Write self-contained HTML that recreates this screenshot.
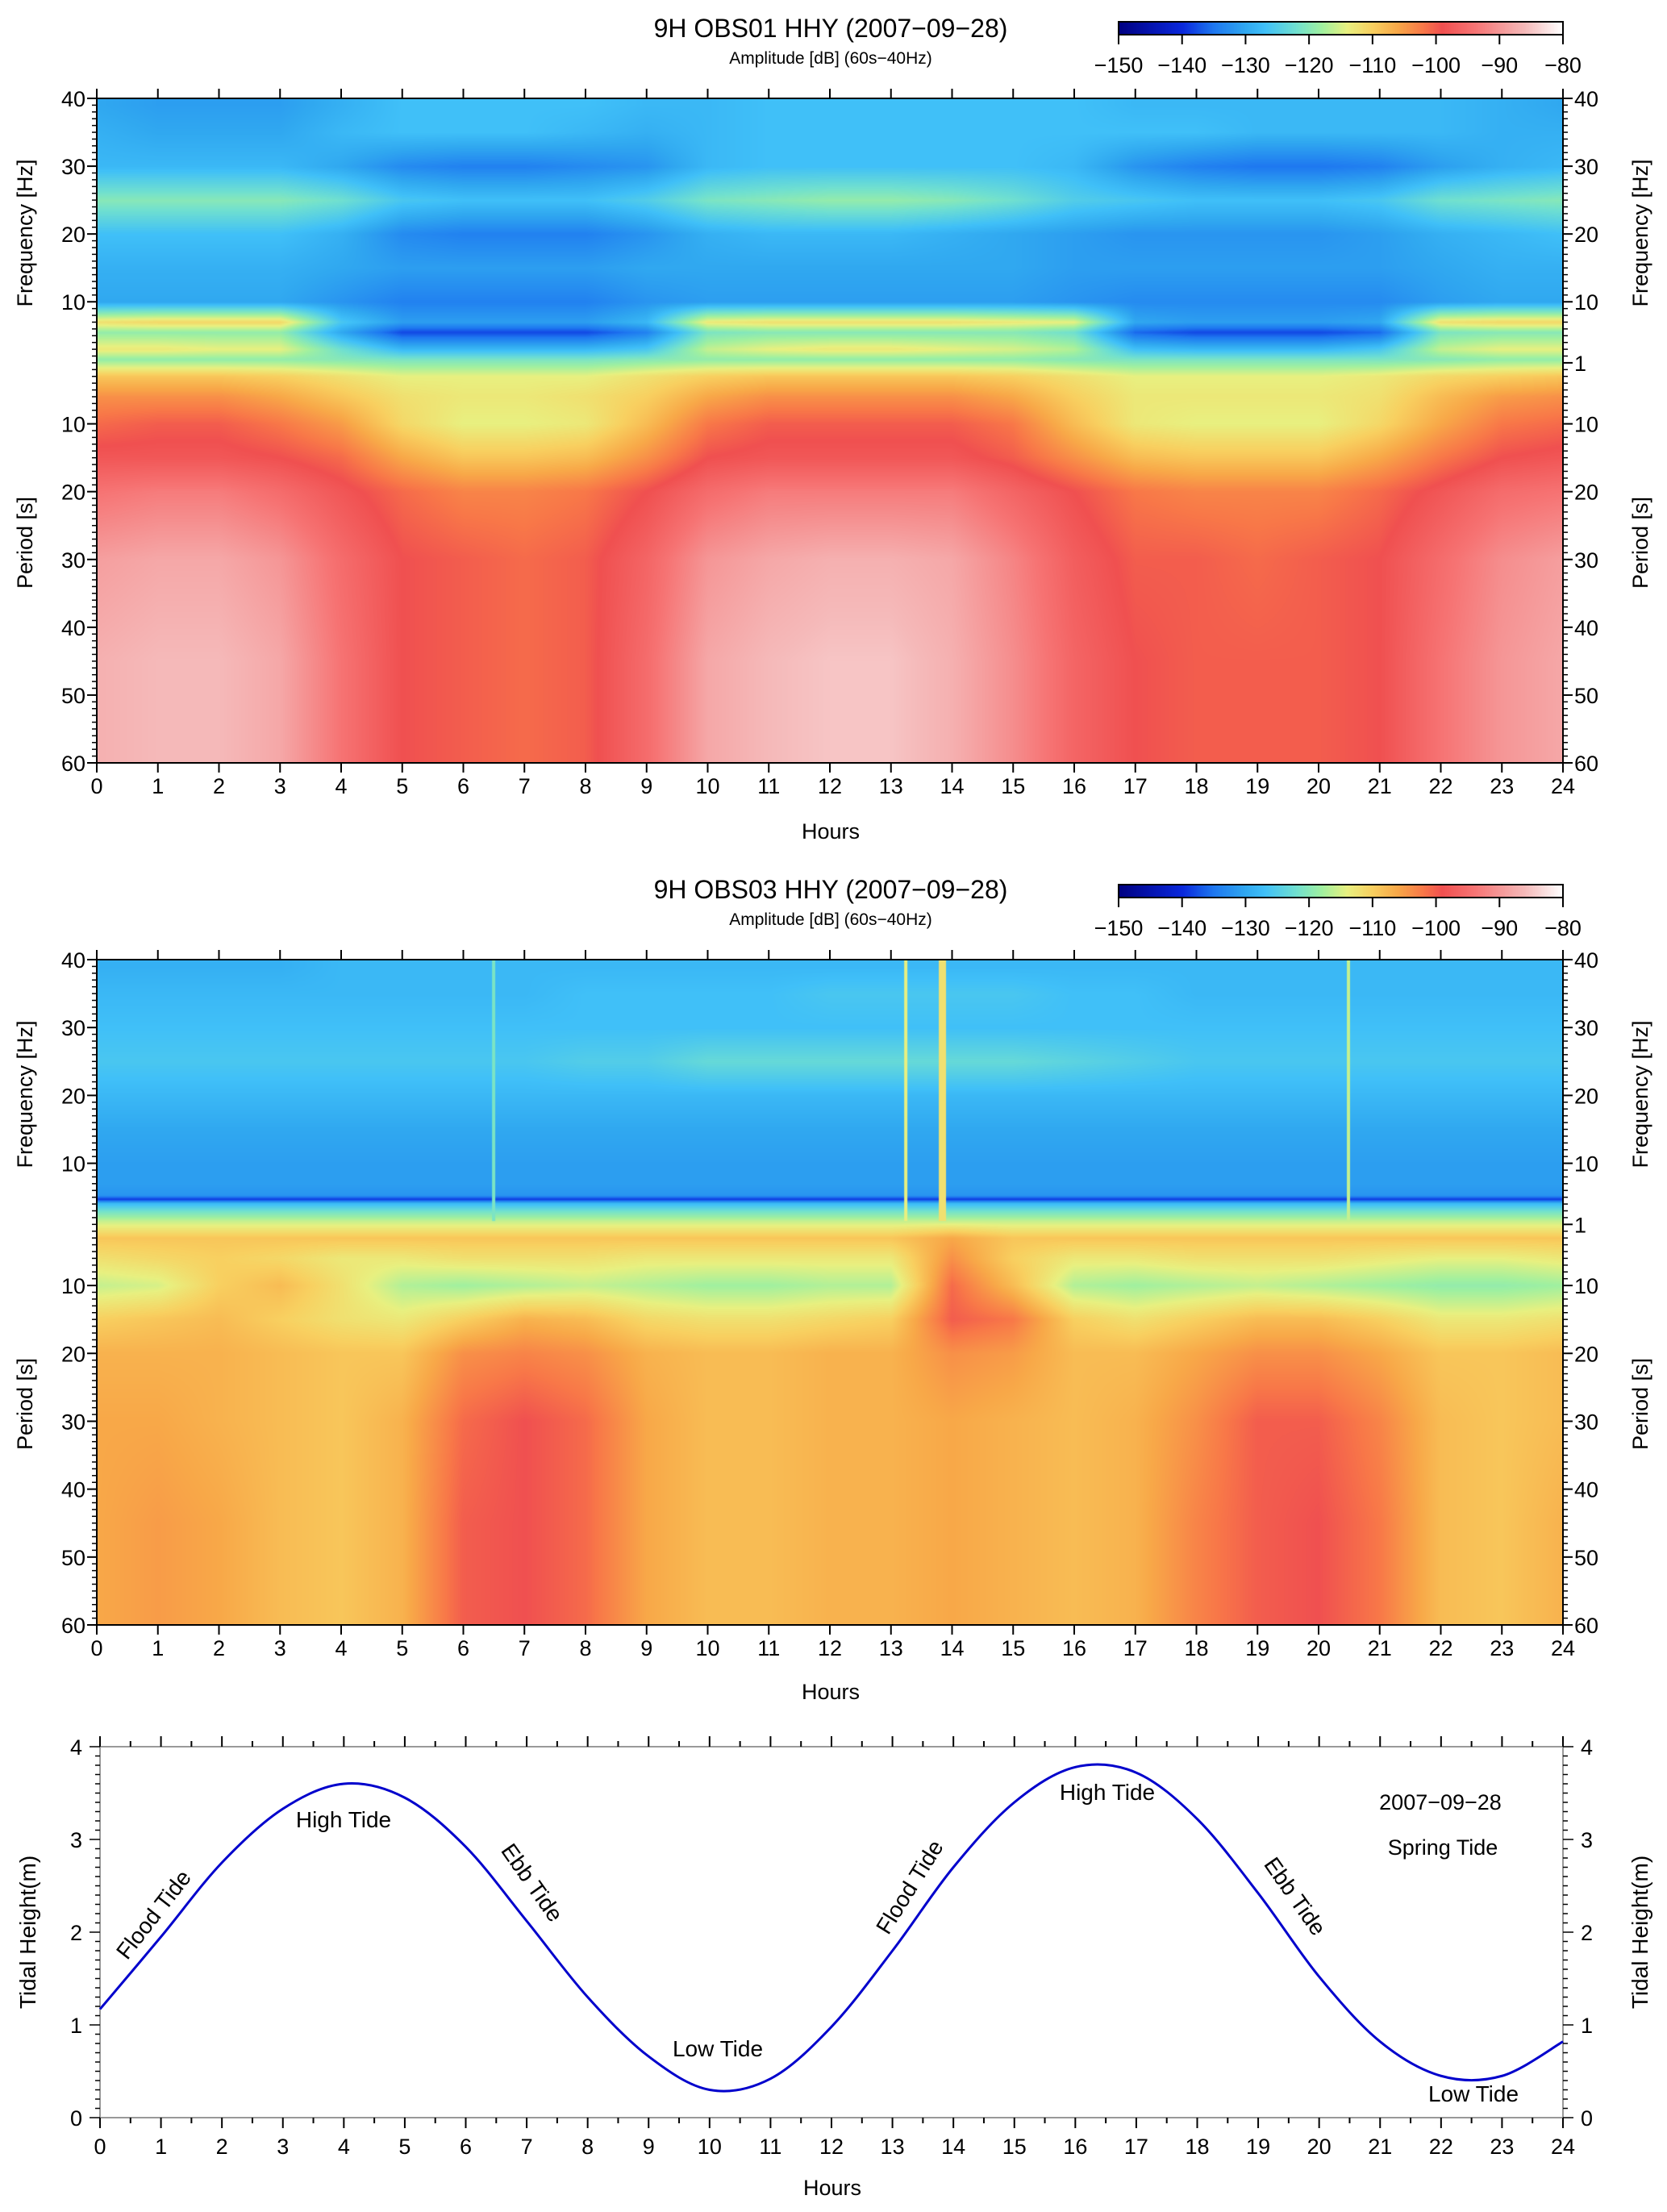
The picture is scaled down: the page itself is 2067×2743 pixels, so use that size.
<!DOCTYPE html>
<html><head><meta charset="utf-8">
<style>
body{margin:0;background:#fff;}
#root{position:relative;width:2067px;height:2743px;overflow:hidden;background:#fff;font-family:"Liberation Sans",sans-serif;}
canvas{position:absolute;}
svg{position:absolute;left:0;top:0;}
</style></head>
<body>
<div id="root">
<canvas id="spec1" width="1818" height="824" style="left:120px;top:122px"></canvas>
<canvas id="spec2" width="1818" height="825" style="left:120px;top:1190px"></canvas>
<canvas id="cb1" width="551" height="16" style="left:1387px;top:27px"></canvas>
<canvas id="cb2" width="551" height="16" style="left:1387px;top:1097px"></canvas>
<svg id="ov" width="2067" height="2743" font-family="Liberation Sans, sans-serif">
<text x="1030" y="46" font-size="32" text-anchor="middle">9H OBS01 HHY (2007−09−28)</text>
<text x="1030" y="79" font-size="21" text-anchor="middle">Amplitude [dB] (60s−40Hz)</text>
<text x="1030" y="1114" font-size="32" text-anchor="middle">9H OBS03 HHY (2007−09−28)</text>
<text x="1030" y="1147" font-size="21" text-anchor="middle">Amplitude [dB] (60s−40Hz)</text>
<text x="1030" y="1040" font-size="27" text-anchor="middle">Hours</text>
<text x="1030" y="2107" font-size="27" text-anchor="middle">Hours</text>
<text x="1032" y="2722" font-size="27" text-anchor="middle">Hours</text>
<text transform="translate(40,289) rotate(-90)" font-size="27" text-anchor="middle">Frequency [Hz]</text>
<text transform="translate(40,673) rotate(-90)" font-size="27" text-anchor="middle">Period [s]</text>
<text transform="translate(2043,289) rotate(-90)" font-size="27" text-anchor="middle">Frequency [Hz]</text>
<text transform="translate(2043,673) rotate(-90)" font-size="27" text-anchor="middle">Period [s]</text>
<text transform="translate(40,1357) rotate(-90)" font-size="27" text-anchor="middle">Frequency [Hz]</text>
<text transform="translate(40,1741) rotate(-90)" font-size="27" text-anchor="middle">Period [s]</text>
<text transform="translate(2043,1357) rotate(-90)" font-size="27" text-anchor="middle">Frequency [Hz]</text>
<text transform="translate(2043,1741) rotate(-90)" font-size="27" text-anchor="middle">Period [s]</text>
<text transform="translate(44,2396) rotate(-90)" font-size="28" text-anchor="middle">Tidal Height(m)</text>
<text transform="translate(2043,2396) rotate(-90)" font-size="28" text-anchor="middle">Tidal Height(m)</text>
<text x="1786" y="2244" font-size="27" text-anchor="middle">2007−09−28</text>
<text x="1789" y="2300" font-size="27" text-anchor="middle">Spring Tide</text>
<text x="426" y="2266" font-size="28" text-anchor="middle">High Tide</text>
<text x="890" y="2550" font-size="28" text-anchor="middle">Low Tide</text>
<text x="1373" y="2232" font-size="28" text-anchor="middle">High Tide</text>
<text x="1827" y="2606" font-size="28" text-anchor="middle">Low Tide</text>
<text transform="translate(198,2380) rotate(-52)" font-size="28" text-anchor="middle">Flood Tide</text>
<text transform="translate(652,2340) rotate(55)" font-size="28" text-anchor="middle">Ebb Tide</text>
<text transform="translate(1136,2345) rotate(-58)" font-size="28" text-anchor="middle">Flood Tide</text>
<text transform="translate(1598,2357) rotate(55)" font-size="28" text-anchor="middle">Ebb Tide</text>
</svg>
</div>
<script>
// ---------- data ----------
const hours = [0,1,2,3,4,5,6,7,8,9,10,11,12,13,14,15,16,17,18,19,20,21,22,23,24];
const colorbarTicks = [-150,-140,-130,-120,-110,-100,-90,-80];
const p1FreqRows = [39,35,30,25,20,15,10,7,5.5,3,1.5];
const p1PeriodRows = [3,6,10,15,20,30,45,60];
const p1F39 = [-130,-131,-131,-131,-129,-127,-127,-127,-127,-128,-128,-127,-127,-127,-127,-127,-127,-128,-128,-128,-128,-128,-128,-129,-130];
const p1F35 = [-129,-130,-130,-130,-128,-127,-127,-127,-128,-129,-128,-127,-127,-127,-127,-127,-127,-127,-127,-128,-128,-128,-128,-129,-129];
const p1F30 = [-128,-128,-128,-128,-130,-133,-134,-134,-133,-132,-128,-127,-127,-127,-127,-127,-128,-132,-134,-135,-135,-134,-131,-129,-128];
const p1F25 = [-120,-120,-120,-120,-122,-126,-127,-127,-127,-125,-121,-120,-119,-119,-120,-122,-125,-126,-127,-127,-127,-126,-122,-121,-120];
const p1F20 = [-127,-127,-127,-127,-129,-133,-134,-134,-134,-132,-129,-128,-128,-128,-129,-130,-131,-132,-132,-132,-132,-131,-129,-128,-127];
const p1F15 = [-129,-129,-129,-129,-130,-131,-131,-131,-131,-130,-130,-130,-130,-130,-130,-130,-131,-131,-131,-131,-131,-131,-130,-129,-129];
const p1F10 = [-130,-130,-130,-130,-132,-134,-134,-134,-134,-132,-131,-131,-131,-131,-131,-131,-132,-133,-133,-133,-133,-133,-131,-130,-130];
const p1F7 = [-112,-111,-111,-111,-126,-131,-131,-131,-131,-128,-113,-112,-112,-112,-112,-113,-114,-130,-131,-131,-131,-130,-112,-111,-111];
const p1F55 = [-119,-119,-119,-119,-130,-138,-138,-138,-138,-134,-121,-120,-120,-120,-120,-120,-122,-136,-138,-138,-138,-136,-121,-120,-120];
const p1F3 = [-113,-113,-114,-114,-122,-128,-128,-128,-128,-126,-116,-114,-113,-113,-114,-115,-117,-127,-128,-128,-128,-126,-116,-114,-114];
const p1F15b = [-119,-119,-119,-119,-120,-121,-121,-121,-121,-120,-119,-119,-119,-119,-119,-119,-120,-121,-121,-121,-121,-121,-120,-119,-119];
const p1P3 = [-109,-109,-109,-110,-112,-114,-114,-114,-114,-112,-110,-109,-109,-109,-109,-110,-112,-114,-114,-114,-114,-113,-111,-110,-109];
const p1P6 = [-104,-104,-104,-106,-109,-112,-113,-113,-112,-110,-106,-104,-104,-104,-104,-106,-110,-113,-113,-113,-113,-112,-108,-105,-104];
const p1P10 = [-101,-100,-100,-102,-105,-111,-114,-114,-113,-108,-102,-100,-100,-100,-100,-102,-108,-113,-114,-114,-114,-111,-106,-102,-101];
const p1P15 = [-98,-98,-98,-99,-101,-106,-109,-109,-108,-104,-99,-98,-98,-98,-98,-100,-104,-108,-109,-109,-109,-106,-102,-99,-98];
const p1P20 = [-94,-93,-93,-95,-98,-101,-103,-103,-102,-99,-95,-93,-93,-93,-93,-96,-99,-102,-103,-103,-103,-101,-98,-95,-94];
const p1P30 = [-89,-88,-88,-90,-95,-99,-100,-101,-100,-96,-90,-88,-87,-87,-88,-92,-97,-100,-100,-101,-100,-99,-95,-91,-89];
const p1P45 = [-87,-86,-86,-88,-94,-99,-100,-101,-100,-95,-88,-86,-85,-85,-87,-91,-96,-99,-100,-100,-100,-99,-94,-90,-88];
const p1P60 = [-87,-86,-86,-88,-94,-99,-100,-101,-100,-95,-88,-86,-85,-85,-87,-91,-96,-99,-100,-100,-100,-99,-94,-90,-88];

const p2FreqRows = [39,35,30,25,20,15,10,7,5.3,4.7,4.1,3,1.5];
const p2PeriodRows = [3,6,10,15,20,30,45,60];
const p2F39 = [-129,-129,-129,-129,-128,-128,-128,-128,-128,-128,-128,-128,-128,-128,-128,-128,-128,-128,-128,-128,-128,-128,-128,-128,-128];
const p2F35 = [-128,-128,-128,-128,-128,-128,-128,-128,-127,-127,-127,-127,-126,-126,-126,-126,-127,-127,-128,-128,-128,-128,-128,-128,-128];
const p2F30 = [-127,-127,-127,-127,-127,-127,-127,-127,-127,-127,-127,-127,-127,-127,-127,-127,-127,-127,-127,-127,-127,-127,-127,-127,-127];
const p2F25 = [-126,-126,-126,-126,-126,-126,-126,-126,-125,-125,-123,-123,-123,-123,-123,-123,-124,-125,-126,-126,-126,-126,-126,-126,-126];
const p2F20 = [-128,-128,-128,-128,-128,-128,-128,-128,-128,-128,-128,-128,-128,-128,-128,-128,-128,-128,-128,-128,-128,-128,-128,-128,-128];
const p2F15 = [-130,-130,-130,-130,-130,-130,-130,-130,-130,-130,-130,-130,-130,-130,-130,-130,-130,-130,-130,-130,-130,-130,-130,-130,-130];
const p2F10 = [-131,-131,-131,-131,-131,-131,-131,-131,-131,-131,-131,-131,-131,-131,-131,-131,-131,-131,-131,-131,-131,-131,-131,-131,-131];
const p2F7 = [-131,-131,-131,-131,-131,-131,-131,-131,-131,-131,-131,-131,-131,-131,-131,-131,-131,-131,-131,-131,-131,-131,-131,-131,-131];
const p2F53 = [-132,-132,-132,-132,-132,-132,-132,-132,-132,-132,-132,-132,-132,-132,-132,-132,-132,-132,-132,-132,-132,-132,-132,-132,-132];
const p2F47 = [-139,-139,-139,-139,-139,-139,-139,-139,-139,-139,-139,-139,-139,-139,-139,-139,-139,-139,-139,-139,-139,-139,-139,-139,-139];
const p2F41 = [-128,-128,-128,-128,-128,-128,-128,-128,-128,-128,-128,-128,-128,-128,-128,-128,-128,-128,-128,-128,-128,-128,-128,-128,-128];
const p2F3 = [-122,-122,-122,-122,-122,-122,-122,-122,-122,-122,-122,-122,-122,-122,-122,-122,-122,-122,-122,-122,-122,-122,-122,-122,-122];
const p2F15b = [-116,-116,-116,-116,-116,-116,-116,-116,-116,-116,-116,-116,-116,-116,-116,-116,-116,-116,-116,-116,-116,-116,-116,-116,-116];
const p2P3 = [-109,-109,-109,-109,-109,-109,-109,-109,-109,-109,-109,-109,-109,-109,-106,-109,-109,-109,-109,-109,-109,-109,-109,-109,-109];
const p2P6 = [-112,-111,-110,-111,-113,-113,-112,-112,-112,-113,-113,-113,-113,-113,-104,-110,-113,-113,-112,-112,-112,-113,-114,-114,-113];
const p2P10 = [-116,-115,-110,-108,-112,-117,-118,-117,-116,-117,-118,-118,-117,-117,-101,-108,-117,-118,-117,-116,-117,-118,-119,-119,-118];
const p2P15 = [-110,-109,-108,-110,-112,-113,-110,-107,-108,-111,-112,-112,-111,-110,-100,-102,-110,-112,-110,-108,-108,-110,-113,-113,-112];
const p2P20 = [-107,-107,-107,-108,-109,-109,-104,-103,-104,-107,-108,-108,-107,-107,-104,-105,-108,-108,-106,-104,-104,-106,-109,-109,-108];
const p2P30 = [-106,-106,-107,-108,-109,-107,-101,-99,-101,-106,-108,-108,-107,-107,-106,-107,-108,-107,-104,-100,-100,-103,-108,-109,-108];
const p2P45 = [-106,-105,-106,-108,-109,-107,-100,-99,-101,-106,-108,-108,-107,-107,-106,-107,-108,-107,-103,-100,-99,-102,-108,-109,-107];
const p2P60 = [-106,-105,-106,-108,-109,-107,-100,-99,-101,-106,-108,-108,-107,-107,-106,-107,-108,-107,-103,-100,-99,-102,-108,-109,-107];
const p2EventHours = [6.5,13.25,13.85,20.5];
const p2EventLevels = [-121,-114,-112,-116];
const tideHeights = [1.17,1.95,2.75,3.33,3.6,3.45,2.92,2.12,1.3,0.66,0.3,0.42,0.98,1.8,2.7,3.4,3.78,3.72,3.22,2.42,1.52,0.82,0.45,0.45,0.82];

const p1Grid = [p1F39,p1F35,p1F30,p1F25,p1F20,p1F15,p1F10,p1F7,p1F55,p1F3,p1F15b,p1P3,p1P6,p1P10,p1P15,p1P20,p1P30,p1P45,p1P60];
const p2Grid = [p2F39,p2F35,p2F30,p2F25,p2F20,p2F15,p2F10,p2F7,p2F53,p2F47,p2F41,p2F3,p2F15b,p2P3,p2P6,p2P10,p2P15,p2P20,p2P30,p2P45,p2P60];

const cmV=[-150,-140,-135,-130,-127,-122,-118,-114,-110,-106,-102,-99,-94,-90,-86,-80];
const cmC=[[0,0,130],[10,40,220],[30,120,240],[48,168,240],[64,192,248],[112,224,208],[160,240,160],[232,240,128],[248,208,96],[248,168,72],[248,120,72],[240,80,80],[246,115,115],[245,150,150],[245,185,185],[255,255,255]];
function cmap(v){
  if(v<=cmV[0])return cmC[0];
  for(let i=1;i<cmV.length;i++){if(v<=cmV[i]){const t=(v-cmV[i-1])/(cmV[i]-cmV[i-1]);const a=cmC[i-1],b=cmC[i];return [a[0]+(b[0]-a[0])*t,a[1]+(b[1]-a[1])*t,a[2]+(b[2]-a[2])*t];}}
  return cmC[cmC.length-1];
}
function sFreq(f){return 40-f;}
function sPer(p){return 38+p;}

function drawSpec(id,grid,freqRows,perRows,evH,evL){
  const cv=document.getElementById(id),ctx=cv.getContext('2d');
  const W=cv.width,H=cv.height;
  const rowS=freqRows.map(sFreq).concat(perRows.map(sPer));
  const xToH=x=>x/(W-1)*24;
  const cols=grid.map(r=>{const a=new Float32Array(W);for(let x=0;x<W;x++){const h=xToH(x);let i=Math.min(Math.floor(h),hours.length-2);const t=h-hours[i];a[x]=r[i]+(r[i+1]-r[i])*t;}return a;});
  const img=ctx.createImageData(W,H);
  for(let y=0;y<H;y++){
    const s=y/(H-1)*98;
    let j=0;while(j<rowS.length-2&&s>rowS[j+1])j++;
    let t=(s-rowS[j])/(rowS[j+1]-rowS[j]);t=Math.max(0,Math.min(1,t));
    const A=cols[j],B=cols[j+1];
    for(let x=0;x<W;x++){
      const v=A[x]+(B[x]-A[x])*t;const c=cmap(v);const k=(y*W+x)*4;
      img.data[k]=c[0];img.data[k+1]=c[1];img.data[k+2]=c[2];img.data[k+3]=255;
    }
  }
  ctx.putImageData(img,0,0);
  if(evH){
    for(let i=0;i<evH.length;i++){
      const c=cmap(evL[i]);ctx.fillStyle='rgb('+c.map(Math.round).join(',')+')';
      const x=evH[i]/24*(W-1);const w=i===2?9:4;
      ctx.fillRect(x-w/2,0,w,(sFreq(1.5))/98*H);
    }
  }
}
drawSpec('spec1',p1Grid,p1FreqRows,p1PeriodRows,null,null);
drawSpec('spec2',p2Grid,p2FreqRows,p2PeriodRows,p2EventHours,p2EventLevels);

function drawCB(id){
  const cv=document.getElementById(id),ctx=cv.getContext('2d');
  for(let x=0;x<cv.width;x++){const v=-150+x/(cv.width-1)*70;const c=cmap(v);ctx.fillStyle='rgb('+c.map(Math.round).join(',')+')';ctx.fillRect(x,0,1,cv.height);}
}
drawCB('cb1');drawCB('cb2');

const NS='http://www.w3.org/2000/svg';
const ov=document.getElementById('ov');
function mk(tag,attrs,name){const e=document.createElementNS(NS,tag);for(const k in attrs)e.setAttribute(k,attrs[k]);
  
  
  ov.appendChild(e);return e;}
function line(x1,y1,x2,y2,name,sw,col){return mk('line',{x1,y1,x2,y2,stroke:col||'#000','stroke-width':sw||2},name);}
function txt(x,y,s,name,fs,anchor){const e=mk('text',{x,y,'font-size':fs||27,'text-anchor':anchor||'middle'},name);e.textContent=s;return e;}

[[27,43,90],[1097,1113,1160]].forEach((c,ci)=>{
  mk('rect',{x:1387,y:c[0],width:551,height:c[1]-c[0],fill:'none',stroke:'#000','stroke-width':2},'colorbar-frame');
  colorbarTicks.forEach(v=>{const x=1387+(v+150)/70*551;line(x,c[1],x,c[1]+12,'colorbar-tick');txt(x,c[2],String(v).replace('-','−'),'colorbar-label',27);});
});

function specAxes(top,bot){
  const L=120,R=1938,H=bot-top;
  const xs=h=>L+h/24*(R-L);const ys=s=>top+s/98*H;
  mk('rect',{x:L,y:top,width:R-L,height:H,fill:'none',stroke:'#000','stroke-width':2},'plot-frame');
  hours.forEach(h=>{const x=xs(h);line(x,top,x,top-12,'x-tick-top');line(x,bot,x,bot+12,'x-tick-bottom');txt(x,bot+38,String(h),'x-tick-label',27);});
  for(let s=0;s<=98;s++){const y=ys(s);line(L,y,L-6,y,'y-minor-tick',1.5);line(R,y,R+6,y,'y-minor-tick',1.5);}
  [40,30,20,10].forEach(f=>{const y=ys(sFreq(f));line(L,y,L-12,y,'y-tick');line(R,y,R+12,y,'y-tick');txt(L-14,y+10,String(f),'y-tick-label-freq',27,'end');txt(R+14,y+10,String(f),'y-tick-label-freq',27,'start');});
  txt(R+14,ys(sFreq(1))+10,'1','y-tick-label-freq-1',27,'start');line(R,ys(39),R+12,ys(39),'y-tick');
  [10,20,30,40,50,60].forEach(p=>{const y=ys(sPer(p));line(L,y,L-12,y,'y-tick');line(R,y,R+12,y,'y-tick');txt(L-14,y+10,String(p),'y-tick-label-period',27,'end');txt(R+14,y+10,String(p),'y-tick-label-period',27,'start');});
}
specAxes(122,946);
specAxes(1190,2015);

(function(){
  const L=124,R=1938,T=2166,B=2626;
  const xs=h=>L+h/24*(R-L);const ys=v=>B-v/4*(B-T);
  line(L,T,R,T,'tide-top-axis',2,'#999');line(L,B,R,B,'tide-bottom-axis',2,'#999');
  line(L,T,L,B,'tide-left-axis',2,'#999');line(R,T,R,B,'tide-right-axis',2,'#999');
  for(let h=0;h<=24;h+=0.5){const x=xs(h);const len=(h%1===0)?13:7;
    line(x,B,x,B+len,'tide-x-tick');line(x,T,x,T-len,'tide-x-tick-top');
    if(h%1===0)txt(x,B+45,String(h),'tide-x-tick-label',27);}
  for(let v=0;v<=40;v++){const y=ys(v/10);const len=(v%10===0)?13:6;line(L,y,L-len,y,'tide-y-tick',1.5);line(R,y,R+len,y,'tide-y-tick',1.5);
    if(v%10===0){txt(L-22,y+10,String(v/10),'tide-y-tick-label',27,'end');txt(R+22,y+10,String(v/10),'tide-y-tick-label',27,'start');}}
  const P=hours.map((h,i)=>[xs(h),ys(tideHeights[i])]);
  let d='M'+P[0][0]+','+P[0][1];
  for(let i=0;i<P.length-1;i++){const p0=P[Math.max(0,i-1)],p1=P[i],p2=P[i+1],p3=P[Math.min(P.length-1,i+2)];
    const c1=[p1[0]+(p2[0]-p0[0])/6,p1[1]+(p2[1]-p0[1])/6],c2=[p2[0]-(p3[0]-p1[0])/6,p2[1]-(p3[1]-p1[1])/6];
    d+=' C'+c1.join(',')+' '+c2.join(',')+' '+p2.join(',');}
  mk('path',{d,fill:'none',stroke:'#0000cc','stroke-width':3},'tide-curve');
})();
</script>
</body></html>
